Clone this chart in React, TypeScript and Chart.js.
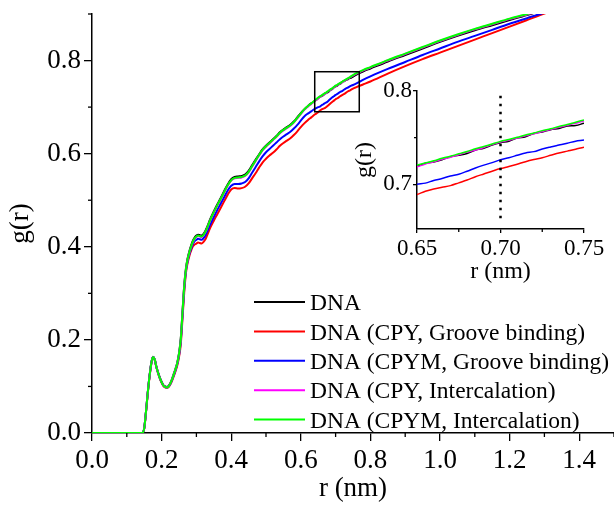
import React, { useEffect, useRef } from "react";
import { Chart, registerables } from "chart.js";

Chart.register(...registerables);

// ---------------- data ----------------
const rValues = [
  0, 0.14, 0.145, 0.15, 0.155, 0.16, 0.165, 0.17, 0.175, 0.18, 0.185, 0.19, 0.195, 0.2, 0.205, 0.21, 0.215, 0.22, 0.225, 0.23,
  0.235, 0.24, 0.245, 0.25, 0.255, 0.26, 0.265, 0.27, 0.275, 0.28, 0.285, 0.29, 0.295, 0.3, 0.305, 0.31, 0.315, 0.32, 0.325, 0.33,
  0.34, 0.35, 0.36, 0.37, 0.38, 0.39, 0.4, 0.41, 0.42, 0.43, 0.44, 0.45, 0.46, 0.47, 0.48, 0.49, 0.5, 0.51, 0.52, 0.53,
  0.54, 0.55, 0.56, 0.57, 0.58, 0.59, 0.6, 0.61, 0.62, 0.63, 0.64,
  0.65, 0.655, 0.66, 0.665, 0.67, 0.675, 0.68, 0.685, 0.69, 0.695, 0.7, 0.705, 0.71, 0.715, 0.72, 0.725, 0.73, 0.735, 0.74, 0.745, 0.75,
  0.76, 0.78, 0.8, 0.85, 0.9, 0.95, 1.0, 1.05, 1.1, 1.15, 1.2, 1.25, 1.3, 1.35, 1.4, 1.5,
];

const dnaValues = [
  0, 0, 0, 0.010, 0.045, 0.085, 0.121, 0.149, 0.164, 0.159, 0.143, 0.130, 0.119, 0.110, 0.103, 0.100, 0.099, 0.101, 0.107, 0.116,
  0.127, 0.138, 0.151, 0.171, 0.202, 0.260, 0.317, 0.354, 0.376, 0.391, 0.403, 0.413, 0.420, 0.424, 0.426, 0.425, 0.424, 0.427, 0.433, 0.441,
  0.460, 0.476, 0.491, 0.505, 0.520, 0.534, 0.545, 0.550, 0.551, 0.552, 0.555, 0.563, 0.575, 0.587, 0.598, 0.609, 0.617, 0.624, 0.631, 0.638,
  0.646, 0.652, 0.657, 0.662, 0.669, 0.678, 0.687, 0.695, 0.702, 0.708, 0.713,
  0.7190, 0.7225, 0.7238, 0.7262, 0.7295, 0.7310, 0.7330, 0.7368, 0.7385, 0.7420, 0.7445, 0.7462, 0.7495, 0.7510, 0.7545, 0.7560, 0.7585, 0.7598, 0.7625, 0.7630, 0.7655,
  0.770, 0.777, 0.783, 0.798, 0.812, 0.826, 0.840, 0.853, 0.865, 0.876, 0.887, 0.898, 0.908, 0.917, 0.926, 0.943,
];

const cpyGrooveValues = [
  0, 0, 0, 0.009, 0.043, 0.083, 0.118, 0.146, 0.161, 0.157, 0.141, 0.128, 0.117, 0.108, 0.101, 0.098, 0.097, 0.099, 0.104, 0.112,
  0.122, 0.133, 0.145, 0.163, 0.190, 0.245, 0.302, 0.344, 0.366, 0.381, 0.392, 0.401, 0.405, 0.407, 0.409, 0.408, 0.407, 0.410, 0.415, 0.423,
  0.441, 0.456, 0.470, 0.484, 0.498, 0.512, 0.523, 0.526, 0.525, 0.526, 0.529, 0.536, 0.547, 0.558, 0.570, 0.581, 0.589, 0.596, 0.602, 0.609,
  0.617, 0.623, 0.628, 0.633, 0.640, 0.648, 0.657, 0.665, 0.672, 0.678, 0.684,
  0.6890, 0.6925, 0.6950, 0.6968, 0.6985, 0.7015, 0.7045, 0.7080, 0.7110, 0.7140, 0.7168, 0.7190, 0.7215, 0.7242, 0.7265, 0.7285, 0.7310, 0.7335, 0.7355, 0.7375, 0.7398,
  0.743, 0.749, 0.755, 0.772, 0.788, 0.803, 0.817, 0.831, 0.845, 0.859, 0.873, 0.887, 0.901, 0.913, 0.924, 0.942,
];

const cpymGrooveValues = [
  0, 0, 0, 0.010, 0.045, 0.085, 0.120, 0.148, 0.163, 0.158, 0.142, 0.129, 0.118, 0.109, 0.102, 0.099, 0.098, 0.100, 0.105, 0.114,
  0.124, 0.135, 0.148, 0.167, 0.196, 0.252, 0.309, 0.348, 0.370, 0.385, 0.396, 0.406, 0.412, 0.415, 0.417, 0.416, 0.415, 0.418, 0.423, 0.431,
  0.448, 0.464, 0.479, 0.493, 0.507, 0.521, 0.531, 0.535, 0.535, 0.536, 0.539, 0.547, 0.559, 0.571, 0.583, 0.594, 0.603, 0.610, 0.617, 0.624,
  0.631, 0.637, 0.642, 0.647, 0.654, 0.662, 0.671, 0.680, 0.686, 0.691, 0.696,
  0.7000, 0.7012, 0.7040, 0.7062, 0.7088, 0.7108, 0.7140, 0.7175, 0.7205, 0.7232, 0.7262, 0.7285, 0.7310, 0.7335, 0.7350, 0.7378, 0.7400, 0.7420, 0.7440, 0.7462, 0.7475,
  0.751, 0.759, 0.766, 0.782, 0.797, 0.812, 0.826, 0.840, 0.853, 0.866, 0.879, 0.891, 0.903, 0.913, 0.923, 0.941,
];

const cpyInterValues = [
  0, 0, 0, 0.010, 0.045, 0.085, 0.120, 0.148, 0.163, 0.158, 0.142, 0.129, 0.118, 0.109, 0.102, 0.099, 0.098, 0.100, 0.106, 0.115,
  0.126, 0.137, 0.150, 0.169, 0.199, 0.257, 0.314, 0.351, 0.373, 0.388, 0.400, 0.410, 0.417, 0.421, 0.423, 0.422, 0.421, 0.424, 0.430, 0.438,
  0.457, 0.473, 0.488, 0.502, 0.517, 0.531, 0.542, 0.547, 0.548, 0.549, 0.552, 0.560, 0.572, 0.584, 0.596, 0.607, 0.615, 0.622, 0.629, 0.636,
  0.644, 0.650, 0.655, 0.660, 0.667, 0.676, 0.685, 0.694, 0.701, 0.707, 0.713,
  0.7185, 0.7218, 0.7240, 0.7268, 0.7290, 0.7316, 0.7345, 0.7368, 0.7395, 0.7425, 0.7452, 0.7472, 0.7495, 0.7520, 0.7542, 0.7565, 0.7588, 0.7610, 0.7632, 0.7655, 0.7678,
  0.772, 0.779, 0.785, 0.800, 0.814, 0.828, 0.842, 0.855, 0.867, 0.878, 0.889, 0.899, 0.909, 0.918, 0.927, 0.944,
];

const cpymInterValues = [
  0, 0, 0, 0.010, 0.045, 0.085, 0.120, 0.148, 0.163, 0.158, 0.142, 0.129, 0.118, 0.109, 0.102, 0.099, 0.098, 0.100, 0.106, 0.115,
  0.126, 0.137, 0.150, 0.170, 0.200, 0.258, 0.315, 0.352, 0.374, 0.389, 0.401, 0.411, 0.418, 0.422, 0.424, 0.423, 0.422, 0.425, 0.431, 0.439,
  0.458, 0.474, 0.489, 0.503, 0.518, 0.532, 0.543, 0.548, 0.549, 0.550, 0.553, 0.561, 0.573, 0.585, 0.597, 0.608, 0.616, 0.623, 0.630, 0.637,
  0.645, 0.651, 0.656, 0.661, 0.668, 0.677, 0.686, 0.695, 0.702, 0.708, 0.714,
  0.7205, 0.7228, 0.7252, 0.7278, 0.7300, 0.7327, 0.7352, 0.7380, 0.7405, 0.7432, 0.7460, 0.7480, 0.7503, 0.7528, 0.7550, 0.7575, 0.7595, 0.7620, 0.7640, 0.7665, 0.7688,
  0.773, 0.780, 0.786, 0.801, 0.815, 0.829, 0.843, 0.856, 0.868, 0.879, 0.890, 0.900, 0.910, 0.919, 0.928, 0.945,
];

const seriesLabels = [
  "DNA",
  "DNA (CPY, Groove binding)",
  "DNA (CPYM, Groove binding)",
  "DNA (CPY, Intercalation)",
  "DNA (CPYM, Intercalation)",
];
const seriesValues = [dnaValues, cpyGrooveValues, cpymGrooveValues, cpyInterValues, cpymInterValues];
const seriesColors = ["#000000", "#ff0000", "#0000ff", "#ff00ff", "#00ff00"];
const seriesOrder = [4, 3, 2, 1, 0];

const mainXTicks = [0, 0.2, 0.4, 0.6, 0.8, 1.0, 1.2, 1.4];
const mainXMinor = [0.1, 0.3, 0.5, 0.7, 0.9, 1.1, 1.3, 1.5];
const mainYTicks = [0, 0.2, 0.4, 0.6, 0.8];
const mainYMinor = [0.1, 0.3, 0.5, 0.7, 0.9];
const insetXTicks = [0.65, 0.7, 0.75];
const insetXMinor = [0.675, 0.725];
const insetYTicks = [0.7, 0.8];
const insetYMinor = [0.75];
const zoomBox = [0.64, 0.768, 0.69, 0.776]; // xMin, xMax, yMin, yMax
const markerR = 0.7;
const markerRange = [0.661, 0.795];

const FONT = "'Liberation Serif', 'Times New Roman', serif";

// --------------- plugin ---------------
const extrasPlugin = {
  id: "extras",
  afterDatasetsDraw(chart: any, _args: any, opts: any) {
    const ctx = chart.ctx;
    const xs = chart.scales.x;
    const ys = chart.scales.y;
    if (opts.box) {
      const [x0, x1, y0, y1] = opts.box;
      const l = xs.getPixelForValue(x0);
      const r = xs.getPixelForValue(x1);
      const t = ys.getPixelForValue(y1);
      const b = ys.getPixelForValue(y0);
      ctx.save();
      ctx.strokeStyle = "#000";
      ctx.lineWidth = 1.5;
      ctx.strokeRect(l, t, r - l, b - t);
      ctx.restore();
    }
    if (opts.marker) {
      const px = xs.getPixelForValue(opts.marker.x);
      ctx.save();
      ctx.strokeStyle = "#000";
      ctx.lineWidth = 2.5;
      ctx.setLineDash([2.5, 5.5]);
      ctx.beginPath();
      ctx.moveTo(px, ys.getPixelForValue(opts.marker.range[1]));
      ctx.lineTo(px, ys.getPixelForValue(opts.marker.range[0]));
      ctx.stroke();
      ctx.restore();
    }
  },
  afterDraw(chart: any, _args: any, opts: any) {
    const ctx = chart.ctx;
    const xs = chart.scales.x;
    const ys = chart.scales.y;
    ctx.save();
    ctx.strokeStyle = "#000";
    ctx.lineWidth = 1.3;
    const len = opts.minorLen || 4;
    (opts.xMinor || []).forEach((v: number) => {
      const px = xs.getPixelForValue(v);
      ctx.beginPath();
      ctx.moveTo(px, xs.top);
      ctx.lineTo(px, xs.top + len);
      ctx.stroke();
    });
    (opts.yMinor || []).forEach((v: number) => {
      const py = ys.getPixelForValue(v);
      ctx.beginPath();
      ctx.moveTo(ys.right, py);
      ctx.lineTo(ys.right - len, py);
      ctx.stroke();
    });
    ctx.restore();

    if (opts.legend) {
      const lg = opts.legend;
      ctx.save();
      ctx.font = `${lg.size}px ${FONT}`;
      ctx.textBaseline = "middle";
      ctx.textAlign = "left";
      chart.data.datasets.forEach((ds: any, i: number) => {
        const y = lg.y0 + i * lg.dy;
        ctx.strokeStyle = ds.borderColor;
        ctx.lineWidth = 2;
        ctx.beginPath();
        ctx.moveTo(lg.x0, y);
        ctx.lineTo(lg.x1, y);
        ctx.stroke();
        ctx.fillStyle = "#000";
        ctx.fillText(ds.label, lg.textX, y + 2);
      });
      ctx.restore();
    }
  },
};

function makeDatasets(lw: number) {
  return seriesValues.map((vals, i) => ({
    label: seriesLabels[i],
    data: rValues.map((r, j) => ({ x: r, y: vals[j] })),
    borderColor: seriesColors[i],
    backgroundColor: seriesColors[i],
    borderWidth: lw,
    pointRadius: 0,
    showLine: true,
    fill: false,
    cubicInterpolationMode: "monotone" as const,
    order: seriesOrder[i],
  }));
}

function axisCommon(tickSize: number, tickLen: number, pad: number) {
  return {
    type: "linear" as const,
    grid: { display: true, drawOnChartArea: false, drawTicks: true, tickLength: tickLen, color: "#000", lineWidth: 1.3 },
    border: { display: true, color: "#000", width: 1.5 },
    ticks: { color: "#000", font: { family: FONT, size: tickSize }, padding: pad, autoSkip: false, maxRotation: 0 },
  };
}

export default function App() {
  const mainRef = useRef<HTMLCanvasElement | null>(null);
  const insetRef = useRef<HTMLCanvasElement | null>(null);

  useEffect(() => {
    document.body.style.margin = "0";
    Chart.defaults.font.family = FONT;
    Chart.defaults.color = "#000";

    const mainCommonX = axisCommon(27, 8, 4);
    const mainCommonY = axisCommon(27, 8, 3);
    const main = new Chart(mainRef.current!, {
      type: "scatter",
      data: { datasets: makeDatasets(2) as any },
      plugins: [extrasPlugin],
      options: {
        animation: false,
        responsive: false,
        devicePixelRatio: 1,
        layout: { padding: { top: 14, right: 0, left: 0, bottom: 0 } },
        plugins: {
          legend: { display: false },
          tooltip: { enabled: false },
          extras: {
            box: zoomBox,
            xMinor: mainXMinor,
            yMinor: mainYMinor,
            minorLen: 4,
            legend: { x0: 254, x1: 305, textX: 310, y0: 302, dy: 29.4, size: 23.5 },
          },
        } as any,
        scales: {
          x: {
            ...mainCommonX,
            min: 0,
            max: 1.5,
            ticks: { ...mainCommonX.ticks, callback: (v: any) => Number(v).toFixed(1) },
            title: { display: true, text: "r (nm)", color: "#000", font: { family: FONT, size: 27 }, padding: { top: 0, bottom: 0 } },
            afterBuildTicks: (s: any) => { s.ticks = mainXTicks.map((v) => ({ value: v })); },
            afterFit: (s: any) => { s.height = 72; s.paddingLeft = 0; s.paddingRight = 0; },
          },
          y: {
            ...mainCommonY,
            min: 0,
            max: 0.9,
            ticks: { ...mainCommonY.ticks, callback: (v: any) => Number(v).toFixed(1) },
            title: { display: true, text: "g(r)", color: "#000", font: { family: FONT, size: 27 }, padding: { top: 5, bottom: 0 } },
            afterBuildTicks: (s: any) => { s.ticks = mainYTicks.map((v) => ({ value: v })); },
            afterFit: (s: any) => { s.width = 92; s.paddingTop = 0; s.paddingBottom = 0; },
          },
        },
      } as any,
    });

    const inX = axisCommon(23, 4, 2);
    const inY = axisCommon(23, 4, 1);
    const inset = new Chart(insetRef.current!, {
      type: "scatter",
      data: { datasets: makeDatasets(1.5) as any },
      plugins: [extrasPlugin],
      options: {
        animation: false,
        responsive: false,
        devicePixelRatio: 1,
        layout: { padding: { top: 21, right: 30, left: 0, bottom: 0 } },
        plugins: {
          legend: { display: false },
          tooltip: { enabled: false },
          extras: {
            marker: { x: markerR, range: markerRange },
            xMinor: insetXMinor,
            yMinor: insetYMinor,
            minorLen: 3,
          },
        } as any,
        scales: {
          x: {
            ...inX,
            min: 0.65,
            max: 0.75,
            ticks: { ...inX.ticks, callback: (v: any) => Number(v).toFixed(2) },
            title: { display: true, text: "r (nm)", color: "#000", font: { family: FONT, size: 24 }, padding: { top: 0, bottom: 4 } },
            afterBuildTicks: (s: any) => { s.ticks = insetXTicks.map((v) => ({ value: v })); },
            afterFit: (s: any) => { s.height = 61; s.paddingLeft = 0; s.paddingRight = 0; },
          },
          y: {
            ...inY,
            min: 0.652,
            max: 0.8,
            ticks: { ...inY.ticks, callback: (v: any) => Number(v).toFixed(1) },
            title: { display: true, text: "g(r)", color: "#000", font: { family: FONT, size: 24 }, padding: { top: 10, bottom: 0 } },
            afterBuildTicks: (s: any) => { s.ticks = insetYTicks.map((v) => ({ value: v })); },
            afterFit: (s: any) => { s.width = 77; s.paddingTop = 0; s.paddingBottom = 0; },
          },
        },
      } as any,
    });

    return () => {
      main.destroy();
      inset.destroy();
    };
  }, []);

  return (
    <div style={{ position: "relative", width: 614, height: 505, overflow: "hidden", background: "#fff" }}>
      <canvas ref={mainRef} width={614} height={505} style={{ position: "absolute", left: 0, top: 0, display: "block" }} />
      <canvas ref={insetRef} width={274} height={220} style={{ position: "absolute", left: 340, top: 70, display: "block" }} />
    </div>
  );
}
